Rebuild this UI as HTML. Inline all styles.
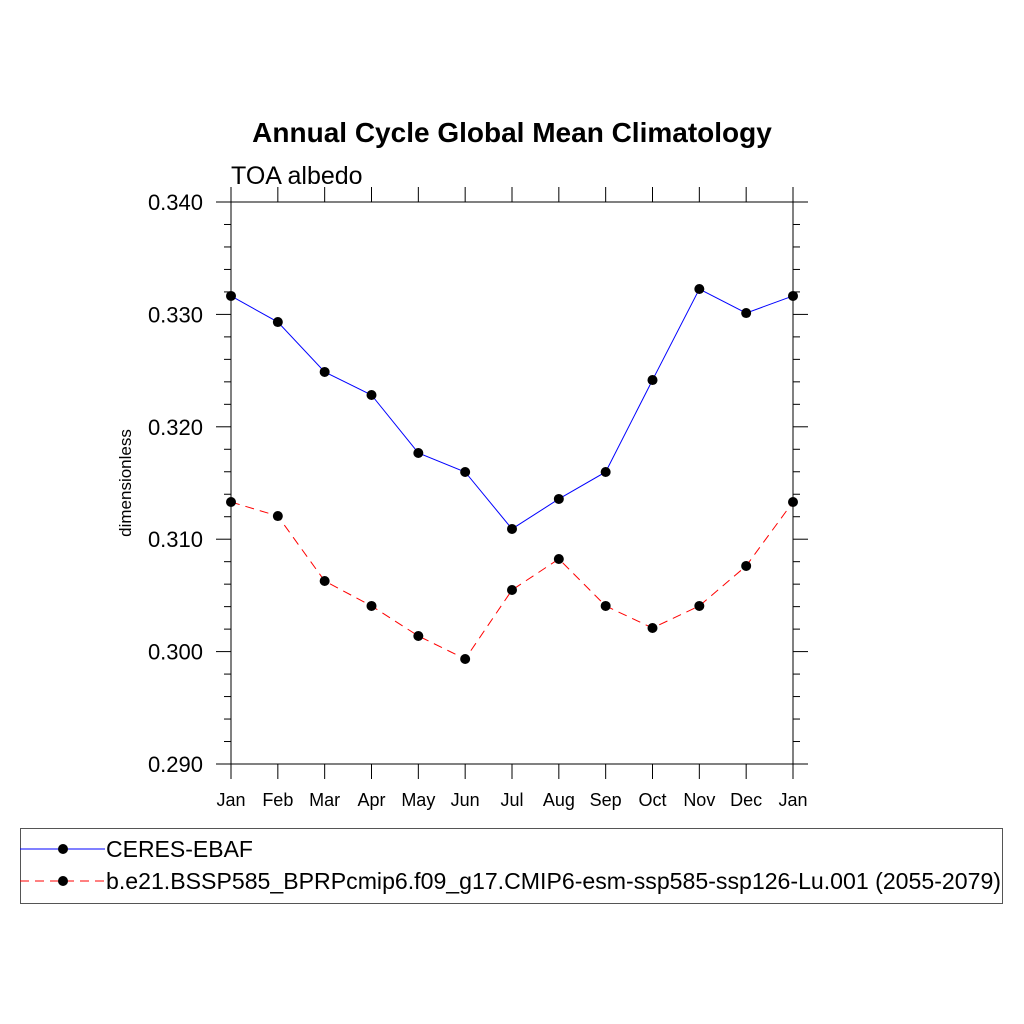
<!DOCTYPE html>
<html><head><meta charset="utf-8"><style>body{margin:0;background:#fff}svg{display:block}text{font-family:"Liberation Sans",sans-serif}</style></head>
<body>
<svg id="c" width="1024" height="1024">
<text x="512" y="142" text-anchor="middle" font-size="28" font-weight="bold">Annual Cycle Global Mean Climatology</text>
<text x="231" y="184" font-size="25">TOA albedo</text>
<text transform="translate(131,483) rotate(-90)" text-anchor="middle" font-size="17">dimensionless</text>
<g id="axes"></g><g id="series"></g>
<rect x="20.5" y="828.5" width="982" height="75" fill="none" stroke="#555"/>
<g><line x1="20" y1="849" x2="105" y2="849" stroke="#00f" stroke-width="1"/><circle cx="63" cy="849" r="5" fill="#000"/><text x="106" y="857" font-size="23">CERES-EBAF</text></g>
<g><line x1="20" y1="881" x2="105" y2="881" stroke="#f00" stroke-dasharray="9,6"/><circle cx="63" cy="881" r="5" fill="#000"/><text x="106" y="889" font-size="23" textLength="895" lengthAdjust="spacingAndGlyphs">b.e21.BSSP585_BPRPcmip6.f09_g17.CMIP6-esm-ssp585-ssp126-Lu.001 (2055-2079)</text></g>
</svg>
<script>
const months=["Jan","Feb","Mar","Apr","May","Jun","Jul","Aug","Sep","Oct","Nov","Dec","Jan"];
const ceres=[0.33164,0.32932,0.32488,0.32283,0.31767,0.31598,0.31091,0.31358,0.31598,0.32416,0.33226,0.33012,0.33164];
const model=[0.31331,0.31206,0.30628,0.30406,0.30139,0.29934,0.30548,0.30824,0.30406,0.30210,0.30406,0.30762,0.31331];
const yTicks=["0.290","0.300","0.310","0.320","0.330","0.340"];
const X0=231,X1=793,Y0=764,Y1=202,ymin=0.29,ymax=0.34;
const sx=i=>X0+(X1-X0)*i/(months.length-1);
const sy=v=>Y0-(v-ymin)/(ymax-ymin)*(Y0-Y1);
const NS="http://www.w3.org/2000/svg";
function mk(p,t,a){const e=document.createElementNS(NS,t);for(const k in a)e.setAttribute(k,a[k]);p.appendChild(e);return e;}
const ax=document.getElementById('axes');
const fr=mk(ax,'rect',{x:X0,y:Y1,width:X1-X0,height:Y0-Y1,fill:'none',stroke:'#000','stroke-width':1});


for(let k=0;k<=25;k++){const v=ymin+k*0.002,y=sy(v),maj=k%5==0,L=maj?15:7;
 mk(ax,'line',{x1:X0-L,y1:y,x2:X0,y2:y,stroke:'#000'});
 mk(ax,'line',{x1:X1,y1:y,x2:X1+L,y2:y,stroke:'#000'});}
yTicks.forEach(t=>{const e=mk(ax,'text',{x:X0-28,y:sy(parseFloat(t))+8,'text-anchor':'end','font-size':22});e.textContent=t;
 
 });
months.forEach((m,i)=>{const x=sx(i);
 mk(ax,'line',{x1:x,y1:Y0,x2:x,y2:Y0+15,stroke:'#000'});
 mk(ax,'line',{x1:x,y1:Y1-15,x2:x,y2:Y1,stroke:'#000'});
 const e=mk(ax,'text',{x:x,y:Y0+42,'text-anchor':'middle','font-size':18});e.textContent=m;
 
 });
const sg=document.getElementById('series');
function series(d,col,dash,name){const g=mk(sg,'g',{});
 
 
 const a={points:d.map((v,i)=>sx(i)+','+sy(v)).join(' '),fill:'none',stroke:col,'stroke-width':1};if(dash)a['stroke-dasharray']=dash;
 mk(g,'polyline',a);
 d.forEach((v,i)=>{const c=mk(g,'circle',{cx:sx(i),cy:sy(v),r:5,fill:'#000'});
  
  });}
series(ceres,'#00f',null,'series-ceres');
series(model,'#f00','9,6','series-model');
</script>
</body></html>
